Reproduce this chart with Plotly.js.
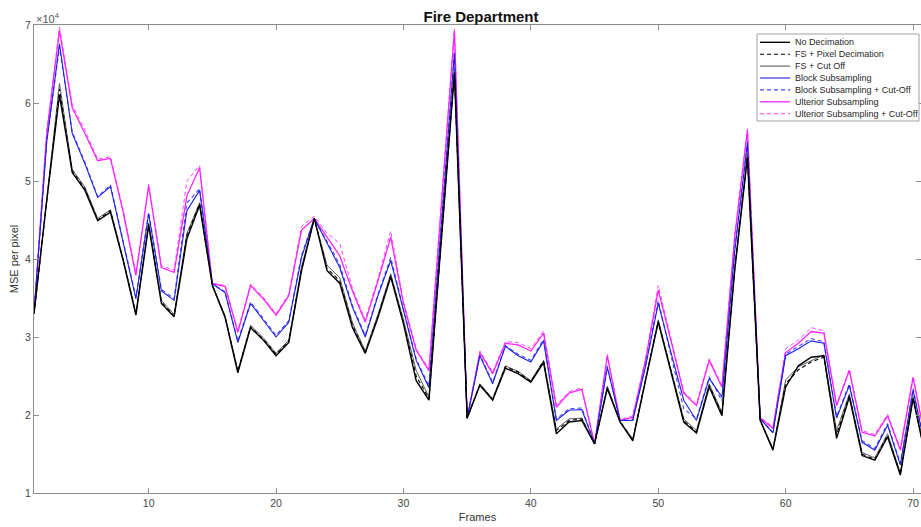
<!DOCTYPE html>
<html>
<head>
<meta charset="utf-8">
<script src="https://cdn.plot.ly/plotly-3.0.1.min.js"></script>
<style>html,body{margin:0;padding:0;background:#fff;}#chart{width:921px;height:527px;}</style>
</head>
<body>
<div id="chart"></div>
<script>
// Frame index
const frames = [1,2,3,4,5,6,7,8,9,10,11,12,13,14,15,16,17,18,19,20,21,22,23,24,25,26,27,28,29,30,31,32,33,34,35,36,37,38,39,40,41,42,43,44,45,46,47,48,49,50,51,52,53,54,55,56,57,58,59,60,61,62,63,64,65,66,67,68,69,70,71];

// MSE per pixel (units of 1e4)
const noDecimation = [3.30,4.75,6.10,5.11,4.88,4.49,4.60,3.98,3.28,4.43,3.43,3.26,4.26,4.69,3.66,3.25,2.54,3.12,2.96,2.76,2.93,3.85,4.52,3.85,3.69,3.12,2.79,3.25,3.77,3.17,2.44,2.19,4.30,6.38,1.96,2.38,2.19,2.60,2.53,2.42,2.67,1.76,1.91,1.93,1.63,2.34,1.91,1.67,2.44,3.19,2.55,1.91,1.77,2.36,1.99,3.85,5.30,1.93,1.55,2.36,2.63,2.74,2.76,1.70,2.23,1.48,1.42,1.72,1.23,2.21,1.45];
const fsPixelDecimation = [3.30,4.78,6.18,5.13,4.90,4.50,4.62,3.99,3.30,4.45,3.45,3.27,4.30,4.71,3.66,3.26,2.56,3.13,2.97,2.78,2.94,3.87,4.52,3.88,3.72,3.15,2.80,3.27,3.79,3.19,2.50,2.21,4.32,6.40,1.96,2.39,2.20,2.62,2.55,2.43,2.69,1.80,1.93,1.95,1.63,2.35,1.92,1.68,2.45,3.20,2.57,1.93,1.78,2.38,2.01,3.87,5.32,1.93,1.56,2.40,2.58,2.68,2.74,1.75,2.25,1.50,1.43,1.74,1.24,2.22,1.46];
const fsCutOff = [3.30,4.80,6.25,5.15,4.92,4.52,4.63,4.00,3.31,4.46,3.47,3.29,4.33,4.72,3.67,3.27,2.57,3.15,2.99,2.79,2.96,3.90,4.52,3.92,3.76,3.18,2.82,3.29,3.81,3.22,2.57,2.23,4.33,6.42,1.96,2.40,2.21,2.63,2.56,2.44,2.70,1.82,1.95,1.96,1.63,2.37,1.92,1.69,2.46,3.22,2.58,1.95,1.80,2.40,2.03,3.89,5.35,1.94,1.57,2.45,2.62,2.70,2.77,1.80,2.27,1.52,1.45,1.76,1.26,2.24,1.47];
const blockSub = [3.30,5.50,6.76,5.61,5.22,4.79,4.93,4.20,3.49,4.58,3.59,3.47,4.62,4.88,3.68,3.57,2.93,3.43,3.21,3.00,3.19,4.02,4.52,4.20,3.89,3.38,3.00,3.53,3.98,3.34,2.70,2.35,4.52,6.64,1.96,2.76,2.40,2.88,2.76,2.68,2.95,1.93,2.06,2.07,1.63,2.61,1.93,1.93,2.62,3.43,2.80,2.19,1.93,2.47,2.23,4.10,5.48,1.95,1.77,2.76,2.85,2.95,2.92,1.96,2.38,1.65,1.55,1.87,1.36,2.32,1.55];
const blockSubCutOff = [3.30,5.52,6.72,5.63,5.24,4.80,4.95,4.22,3.51,4.60,3.61,3.49,4.72,4.90,3.68,3.58,2.95,3.45,3.23,3.02,3.21,4.05,4.52,4.23,3.93,3.40,3.02,3.55,4.02,3.36,2.72,2.37,4.54,6.66,1.96,2.77,2.42,2.89,2.78,2.70,2.97,1.95,2.08,2.09,1.63,2.63,1.93,1.94,2.64,3.47,2.76,2.08,1.95,2.49,2.18,4.12,5.50,1.95,1.78,2.78,2.88,2.98,2.94,1.98,2.40,1.67,1.57,1.89,1.38,2.34,1.56];
const ulteriorSub = [3.30,5.61,6.93,5.94,5.61,5.26,5.29,4.60,3.79,4.94,3.89,3.83,4.81,5.17,3.68,3.65,3.06,3.66,3.49,3.28,3.53,4.37,4.52,4.28,4.04,3.59,3.19,3.72,4.28,3.43,2.83,2.57,4.75,6.93,1.96,2.80,2.53,2.92,2.90,2.82,3.05,2.10,2.28,2.33,1.63,2.76,1.93,1.97,2.70,3.60,2.95,2.28,2.12,2.70,2.36,4.28,5.65,1.96,1.83,2.80,2.92,3.07,3.05,2.12,2.57,1.78,1.73,1.99,1.55,2.48,1.65];
const ulteriorSubCutOff = [3.30,5.63,6.97,5.98,5.65,5.28,5.31,4.63,3.82,4.96,3.91,3.86,5.00,5.20,3.69,3.66,3.08,3.68,3.51,3.30,3.55,4.42,4.55,4.33,4.20,3.62,3.22,3.75,4.36,3.45,2.85,2.59,4.77,6.95,1.96,2.82,2.55,2.94,2.93,2.85,3.08,2.13,2.30,2.35,1.63,2.78,1.94,1.99,2.72,3.66,2.98,2.30,2.14,2.72,2.38,4.30,5.67,1.97,1.85,2.85,2.96,3.12,3.08,2.14,2.59,1.80,1.75,2.01,1.57,2.50,1.66];

const seriesNames = ['No Decimation','FS + Pixel Decimation','FS + Cut Off','Block Subsampling','Block Subsampling + Cut-Off','Ulterior Subsampling','Ulterior Subsampling + Cut-Off'];
const seriesValues = [noDecimation, fsPixelDecimation, fsCutOff, blockSub, blockSubCutOff, ulteriorSub, ulteriorSubCutOff];

const styles = [
  {color:'#000000', width:1.4, dash:'solid'},
  {color:'#000000', width:1.1, dash:'4px,3px'},
  {color:'#4a4a4a', width:0.9, dash:'solid'},
  {color:'#1f1fe0', width:1.1, dash:'solid'},
  {color:'#4444ff', width:1.1, dash:'4px,3px'},
  {color:'#ff22ff', width:1.3, dash:'solid'},
  {color:'#ff44ff', width:1.0, dash:'4px,3px'}
];

const traces = seriesValues.map((vals, i) => ({
  type:'scatter', mode:'lines', name: seriesNames[i],
  x: frames, y: vals.map(v => v*1e4),
  line: {color: styles[i].color, width: styles[i].width, dash: styles[i].dash},
  showlegend:false, hoverinfo:'skip'
}));
// draw order: magenta behind, black on top
const order = [6,5,4,3,2,1,0];
const data = order.map(i => traces[i]);

const W = 921, H = 527, ML = 34, MR = 0, MT = 25, MB = 34;
const PW = W - ML - MR, PH = H - MT - MB;
const px2x = p => (p - ML) / PW;
const py2y = p => (H - MB - p) / PH;

const shapes = [];
const annotations = [];
// custom MATLAB-style legend
const lgL = 757, lgR = 919, lgT = 34, lgB = 121;
shapes.push({type:'rect', xref:'paper', yref:'paper', x0:px2x(lgL), x1:px2x(lgR), y0:py2y(lgB), y1:py2y(lgT), line:{color:'#a0a0a0', width:1}, fillcolor:'#ffffff', layer:'above'});
const rowTop = 42.3, rowStep = 11.9;
seriesNames.forEach((name, i) => {
  const cy = rowTop + i*rowStep;
  shapes.push({type:'line', xref:'paper', yref:'paper', x0:px2x(760), x1:px2x(790), y0:py2y(cy), y1:py2y(cy), line:{color:styles[i].color, width:Math.max(styles[i].width,1), dash:styles[i].dash}, layer:'above'});
  annotations.push({xref:'paper', yref:'paper', x:px2x(793), y:py2y(cy), xanchor:'left', yanchor:'middle', text:name, showarrow:false, font:{family:'Liberation Sans, Arial, sans-serif', size:9, color:'#262626'}});
});
annotations.push({xref:'paper', yref:'paper', x:px2x(34), y:py2y(18), xanchor:'left', yanchor:'middle', text:'\u00d710<sup>4</sup>', showarrow:false, font:{family:'Liberation Sans, Arial, sans-serif', size:11, color:'#555'}});

const axisCommon = {
  showline:true, mirror:'ticks', ticks:'inside', ticklen:5, tickwidth:1,
  linecolor:'#8c8c8c', tickcolor:'#8c8c8c', linewidth:1,
  showgrid:false, zeroline:false,
  tickfont:{family:'Liberation Sans, Arial, sans-serif', size:10.5, color:'#444'}
};

const layout = {
  width:W, height:H,
  margin:{l:ML, r:MR, t:MT, b:MB, pad:0},
  paper_bgcolor:'#ffffff', plot_bgcolor:'#ffffff',
  showlegend:false,
  title:{text:'<b>Fire Department</b>', x:481/W, xanchor:'center', y:1-17/H, yanchor:'middle', font:{family:'Liberation Sans, Arial, sans-serif', size:15, color:'#111'}},
  xaxis: Object.assign({}, axisCommon, {
    range:[1, 1 + PW/12.74], tickvals:[10,20,30,40,50,60,70], ticktext:['10','20','30','40','50','60','70'],
    title:{text:'Frames', font:{family:'Liberation Sans, Arial, sans-serif', size:11, color:'#333'}, standoff:5}
  }),
  yaxis: Object.assign({}, axisCommon, {
    range:[1e4, 7e4], tickvals:[1e4,2e4,3e4,4e4,5e4,6e4,7e4], ticktext:['1','2','3','4','5','6','7'],
    title:{text:'MSE per pixel', font:{family:'Liberation Sans, Arial, sans-serif', size:11, color:'#333'}, standoff:4}
  }),
  shapes: shapes,
  annotations: annotations
};

Plotly.newPlot('chart', data, layout, {staticPlot:true, displayModeBar:false});
</script>
</body>
</html>
